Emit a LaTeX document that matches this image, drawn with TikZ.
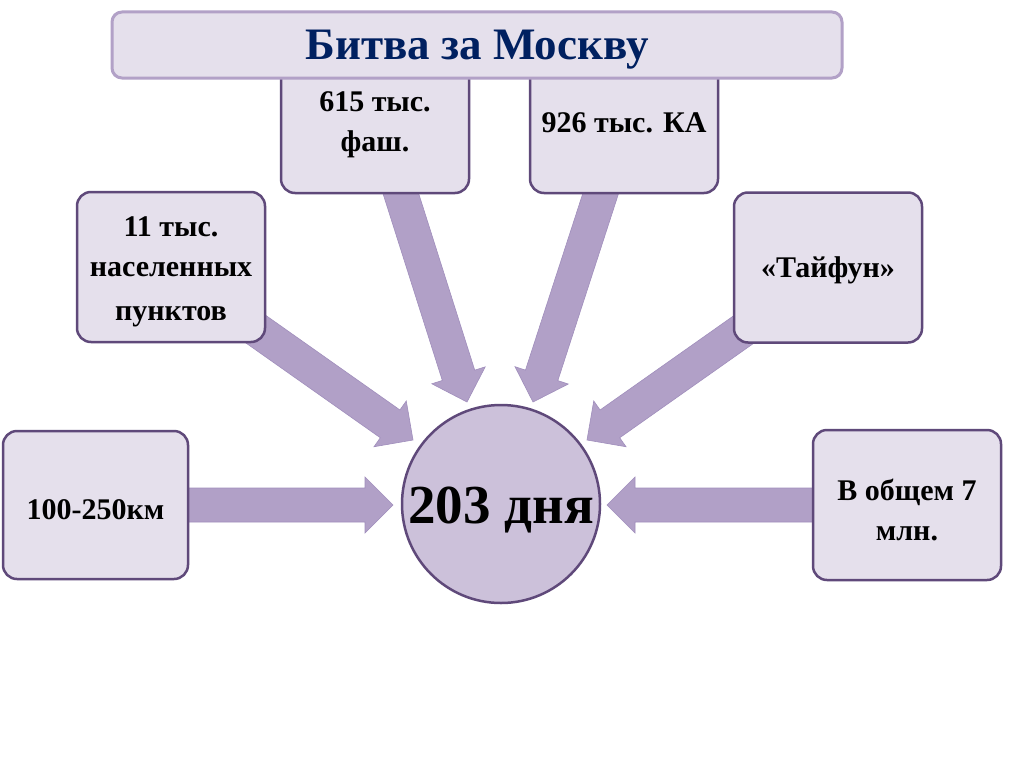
\documentclass[tikz,border=0pt]{standalone}
\usepackage{fontspec}
\setmainfont{Liberation Serif}
\usetikzlibrary{calc}
\definecolor{boxfill}{RGB}{229,224,236}
\definecolor{boxline}{RGB}{95,73,122}
\definecolor{titleline}{RGB}{178,161,199}
\definecolor{arrowfill}{RGB}{177,160,199}
\definecolor{arrowline}{RGB}{160,142,188}
\definecolor{circfill}{RGB}{204,193,218}
\definecolor{navy}{RGB}{0,32,96}
\tikzset{
  infobox/.style={draw=boxline, fill=boxfill, line width=2.5pt, rounded corners=14pt, inner sep=0pt},
  boxtext/.style={align=center, font=\bfseries\fontsize{30}{40}\selectfont, inner sep=0pt},
  titlebox/.style={draw=titleline, fill=boxfill, line width=3pt, rounded corners=10pt, inner sep=0pt},
  titletext/.style={font=\bfseries\fontsize{45}{50}\selectfont, text=navy, inner sep=0pt},
  hub/.style={circle, draw=boxline, fill=circfill, line width=2.5pt, minimum size=198pt, inner sep=0pt},
  hubtext/.style={font=\bfseries\fontsize{55}{60}\selectfont, inner sep=0pt},
  arrowstyle/.style={fill=arrowfill, draw=arrowline, line width=0.6pt}
}
\newcommand\blockarrow[2]{%
  \coordinate (hb) at ($(#2)!28pt!(#1)$);
  \filldraw[arrowstyle] ($(#1)!17pt!90:(#2)$) -- ($(hb)!17pt!90:(#2)$) -- ($(hb)!28pt!90:(#2)$)
    -- (#2) -- ($(hb)!28pt!-90:(#2)$) -- ($(hb)!17pt!-90:(#2)$) -- ($(#1)!17pt!-90:(#2)$) -- cycle;}
\begin{document}
\begin{tikzpicture}[x=1pt,y=-1pt]
\useasboundingbox[fill=white] (0,0) rectangle (1024,768);
% arrow anchor coordinates
\coordinate (s1) at (394,172);  \coordinate (t1) at (467,402);
\coordinate (s2) at (607,174);  \coordinate (t2) at (533,402);
\coordinate (s3) at (240,318);  \coordinate (t3) at (413,440);
\coordinate (s4) at (760,318);  \coordinate (t4) at (587,440);
\coordinate (s5) at (170,505);  \coordinate (t5) at (393,505);
\coordinate (s6) at (830,505);  \coordinate (t6) at (607,505);
\blockarrow{s1}{t1}
\blockarrow{s2}{t2}
\blockarrow{s3}{t3}
\blockarrow{s4}{t4}
\blockarrow{s5}{t5}
\blockarrow{s6}{t6}
% boxes
\node[infobox, minimum width=188pt, minimum height=135pt] (b615) at (375,125.5) {};
\node[boxtext] at ($(b615.center)+(0,-1)$) {615 тыс.\\фаш.};
\node[infobox, minimum width=188pt, minimum height=135pt] (b926) at (624,125.5) {};
\node[boxtext] at ($(b926.center)+(0,-3)$) {926 тыс. КА};
\node[infobox, minimum width=188pt, minimum height=150pt] (b11) at (171,267) {};
\node[boxtext] at ($(b11.center)+(0,5)$) {11 тыс.\\населенных\\[4pt]пунктов};
\node[infobox, minimum width=188pt, minimum height=150pt] (bT) at (828,267.5) {};
\node[boxtext] at ($(bT.center)+(0,3)$) {«Тайфун»};
\node[infobox, minimum width=185pt, minimum height=148pt] (b100) at (95.5,505) {};
\node[boxtext] at ($(b100.center)+(0,5)$) {100-250км};
\node[infobox, minimum width=188pt, minimum height=150pt] (b7) at (907,505) {};
\node[boxtext] at ($(b7.center)+(0,5)$) {В общем 7\\млн.};
\node[titlebox, minimum width=730pt, minimum height=66pt] (title) at (477,45) {};
\node[titletext] at ($(title.center)+(0,5)$) {Битва за Москву};
\node[hub] (hub) at (501,504) {};
\node[hubtext] at ($(hub.center)+(0,6)$) {203 дня};
\end{tikzpicture}
\end{document}
